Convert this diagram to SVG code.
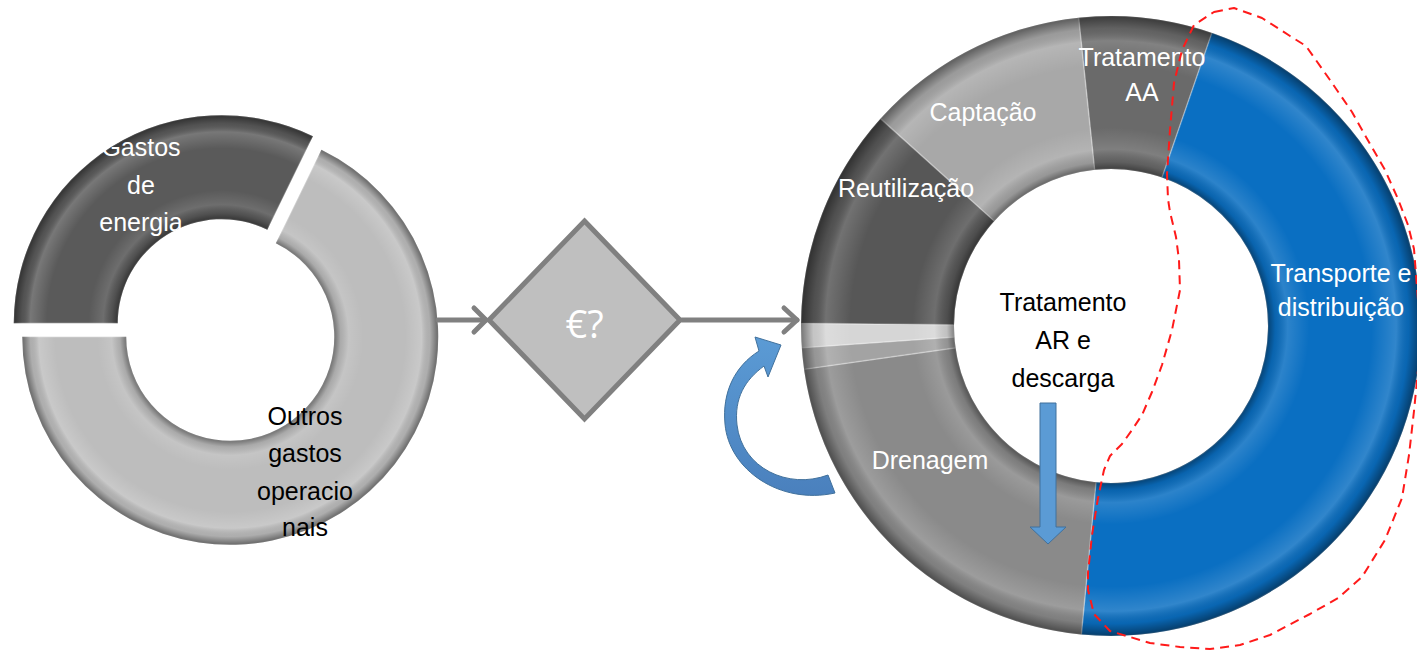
<svg xmlns="http://www.w3.org/2000/svg" width="1417" height="650" viewBox="0 0 1417 650">
<style>
.lbl{font-family:"Liberation Sans",Arial,sans-serif;font-size:25px;text-anchor:middle}
.w{fill:#ffffff}
.k{fill:#000000}
.seg{stroke:#ffffff;stroke-opacity:0.28;stroke-width:1.5}
.conn{stroke:#808080;stroke-width:5;fill:none;stroke-linecap:round;stroke-linejoin:round}
</style>
<defs>
<radialGradient id="shadeLd" gradientUnits="userSpaceOnUse" cx="221.76" cy="323.22" r="208">
<stop offset="0.5" stop-color="#000" stop-opacity="0.4"/>
<stop offset="0.53" stop-color="#000" stop-opacity="0.1"/>
<stop offset="0.57" stop-color="#fff" stop-opacity="0.12"/>
<stop offset="0.64" stop-color="#fff" stop-opacity="0"/>
<stop offset="0.84" stop-color="#fff" stop-opacity="0"/>
<stop offset="0.92" stop-color="#fff" stop-opacity="0.18"/>
<stop offset="0.96" stop-color="#000" stop-opacity="0.08"/>
<stop offset="1" stop-color="#000" stop-opacity="0.45"/>
</radialGradient>
<radialGradient id="shadeLl" gradientUnits="userSpaceOnUse" cx="230.24" cy="336.78" r="208">
<stop offset="0.5" stop-color="#000" stop-opacity="0.4"/>
<stop offset="0.53" stop-color="#000" stop-opacity="0.1"/>
<stop offset="0.57" stop-color="#fff" stop-opacity="0.12"/>
<stop offset="0.64" stop-color="#fff" stop-opacity="0"/>
<stop offset="0.84" stop-color="#fff" stop-opacity="0"/>
<stop offset="0.92" stop-color="#fff" stop-opacity="0.18"/>
<stop offset="0.96" stop-color="#000" stop-opacity="0.08"/>
<stop offset="1" stop-color="#000" stop-opacity="0.45"/>
</radialGradient>
<radialGradient id="shadeR" gradientUnits="userSpaceOnUse" cx="1111" cy="326" r="310">
<stop offset="0.506" stop-color="#000" stop-opacity="0.4"/>
<stop offset="0.53" stop-color="#000" stop-opacity="0.1"/>
<stop offset="0.57" stop-color="#fff" stop-opacity="0.14"/>
<stop offset="0.64" stop-color="#fff" stop-opacity="0"/>
<stop offset="0.84" stop-color="#fff" stop-opacity="0"/>
<stop offset="0.92" stop-color="#fff" stop-opacity="0.16"/>
<stop offset="0.96" stop-color="#000" stop-opacity="0.08"/>
<stop offset="1" stop-color="#000" stop-opacity="0.45"/>
</radialGradient>
<linearGradient id="blueArrow" x1="0" y1="0" x2="0" y2="1">
<stop offset="0" stop-color="#5b9bd5"/>
<stop offset="1" stop-color="#4a80bd"/>
</linearGradient>
</defs>

<g id="donut-left">
<g id="seg-gastos-energia">
<path class="seg" fill="#5a5a5a" d="M 13.76 323.22 A 208 208 0 0 1 312.94 136.27 L 267.35 229.74 A 104 104 0 0 0 117.76 323.22 Z"/>
<path fill="url(#shadeLd)" d="M 13.76 323.22 A 208 208 0 0 1 312.94 136.27 L 267.35 229.74 A 104 104 0 0 0 117.76 323.22 Z"/>
<text class="lbl w" x="141" y="156">Gastos</text>
<text class="lbl w" x="141" y="194">de</text>
<text class="lbl w" x="141" y="231">energia</text>
</g>
<g id="seg-outros-gastos">
<path class="seg" fill="#bdbdbd" d="M 321.42 149.83 A 208 208 0 1 1 22.24 336.78 L 126.24 336.78 A 104 104 0 1 0 275.83 243.30 Z"/>
<path fill="url(#shadeLl)" d="M 321.42 149.83 A 208 208 0 1 1 22.24 336.78 L 126.24 336.78 A 104 104 0 1 0 275.83 243.30 Z"/>
<text class="lbl k" x="305" y="425">Outros</text>
<text class="lbl k" x="305" y="462">gastos</text>
<text class="lbl k" x="305" y="500">operacio</text>
<text class="lbl k" x="305" y="536">nais</text>
</g>
</g>

<g id="decision">
<polygon points="584.5,221 680,320 584.5,419 489,320" fill="#bfbfbf" stroke="#808080" stroke-width="5" stroke-linejoin="miter"/>
<text x="584.5" y="338" text-anchor="middle" font-family="'Open Sans','Noto Sans',sans-serif" font-size="38" fill="#ffffff">€?</text>
</g>

<g id="donut-right">
<g id="seg-tratamento-aa">
<path class="seg" fill="#6a6a6a" d="M 1078.60 17.70 A 310 310 0 0 1 1211.93 32.89 L 1162.11 177.55 A 157 157 0 0 0 1094.59 169.86 Z"/>
</g>
<g id="seg-transporte">
<path class="seg" fill="#0a6fc2" d="M 1211.93 32.89 A 310 310 0 0 1 1081.29 634.57 L 1095.95 482.28 A 157 157 0 0 0 1162.11 177.55 Z"/>
</g>
<g id="seg-drenagem">
<path class="seg" fill="#8a8a8a" d="M 1081.29 634.57 A 310 310 0 0 1 804.02 369.14 L 955.53 347.85 A 157 157 0 0 0 1095.95 482.28 Z"/>
</g>
<g id="seg-sliver-a">
<path class="seg" fill="#a3a3a3" d="M 804.02 369.14 A 310 310 0 0 1 801.76 347.63 L 954.38 336.95 A 157 157 0 0 0 955.53 347.85 Z"/>
</g>
<g id="seg-sliver-b">
<path class="seg" fill="#d6d6d6" d="M 801.76 347.63 A 310 310 0 0 1 801.01 323.29 L 954.01 324.63 A 157 157 0 0 0 954.38 336.95 Z"/>
</g>
<g id="seg-reutilizacao">
<path class="seg" fill="#575757" d="M 801.01 323.29 A 310 310 0 0 1 880.63 118.57 L 994.33 220.95 A 157 157 0 0 0 954.01 324.63 Z"/>
</g>
<g id="seg-captacao">
<path class="seg" fill="#a8a8a8" d="M 880.63 118.57 A 310 310 0 0 1 1078.60 17.70 L 1094.59 169.86 A 157 157 0 0 0 994.33 220.95 Z"/>
</g>
<path fill="url(#shadeR)" fill-rule="evenodd" d="M 801 326 A 310 310 0 1 1 1421 326 A 310 310 0 1 1 801 326 Z M 954 326 A 157 157 0 1 0 1268 326 A 157 157 0 1 0 954 326 Z"/>
<text class="lbl w" x="1142" y="66">Tratamento</text>
<text class="lbl w" x="1142" y="101">AA</text>
<text class="lbl w" x="983" y="121">Captação</text>
<text class="lbl w" x="906" y="197">Reutilização</text>
<text class="lbl w" x="930" y="469">Drenagem</text>
<text class="lbl w" x="1341" y="282">Transporte e</text>
<text class="lbl w" x="1341" y="316">distribuição</text>
<g id="center-label">
<text class="lbl k" x="1063" y="311">Tratamento</text>
<text class="lbl k" x="1063" y="349">AR e</text>
<text class="lbl k" x="1063" y="387">descarga</text>
</g>
</g>

<g id="connectors">
<line class="conn" x1="438" y1="320" x2="486" y2="320"/>
<polyline class="conn" points="474,308 486,320 474,332"/>
<line class="conn" x1="682" y1="320" x2="797" y2="320"/>
<polyline class="conn" points="784,308 797,320 784,332"/>
<path id="curved-arrow" fill="url(#blueArrow)" stroke="#41719c" stroke-width="1" d="M 828 475 C 788 490, 742 468, 737 425 C 734 398, 745 380, 764 366 L 768 377 L 781 345 L 755 337 L 759 351 C 735 366, 722 392, 725 424 C 729 470, 780 505, 835 493 Z"/>
<polygon id="down-arrow" points="1040,403 1056,403 1056,527 1066,527 1048,544 1030,527 1040,527" fill="#5b9bd5" stroke="#41719c" stroke-width="1"/>
</g>

<g id="highlight-outline">
<path fill="none" stroke="#ff1a1a" stroke-width="2" stroke-dasharray="9,6" stroke-linejoin="round" d="M 1214 12 L 1234 8 L 1262 18 L 1290 36 L 1306 46 L 1330 80 L 1352 112 L 1366 137 L 1385 170 L 1398 199 L 1408 225 L 1414 249 L 1418 300 L 1419 360 L 1414 411 L 1409 455 L 1402 498 L 1385 540 L 1362 577 L 1338 598 L 1310 614 L 1270 635 L 1240 645 L 1210 649 L 1180 647 L 1150 643 L 1110 631 L 1094 614 L 1088 590 L 1088 573 L 1092 535 L 1098 498 L 1104 470 L 1110 456 L 1122 444 L 1132 430 L 1142 415 L 1152 392 L 1162 365 L 1172 330 L 1180 290 L 1179 260 L 1176 237 L 1170 212 L 1168 199 L 1167 174 L 1170 130 L 1174 83 L 1182 50 L 1194 25 Z"/>
</g>
</svg>
